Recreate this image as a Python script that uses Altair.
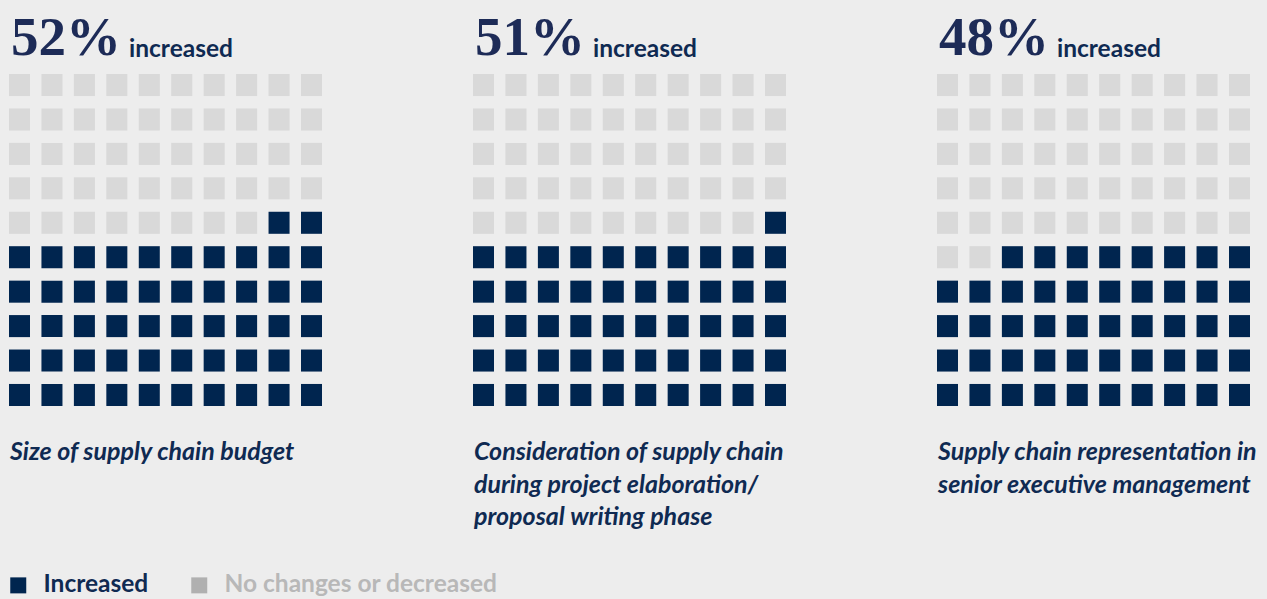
import altair as alt
import pandas as pd

panels = ["Size of supply chain budget",
          "Consideration of supply chain during project elaboration/ proposal writing phase",
          "Supply chain representation in senior executive management"]
values = [52, 51, 48]
captions = ["Size of supply chain budget",
            "Consideration of supply chain\nduring project elaboration/\nproposal writing phase",
            "Supply chain representation in\nsenior executive management"]
status_labels = ["Increased", "No changes or decreased"]

NAVY = "#00254f"
GRAY = "#b0b0b0"
BG = "#ededed"

rows = []
for p, v in zip(panels, values):
    for k in range(100):
        r_bottom = k // 10
        col = 9 - (k % 10)
        rows.append({"panel": p, "row": 9 - r_bottom, "col": col,
                     "status": status_labels[0] if k < v else status_labels[1]})
grid = pd.DataFrame(rows)

heads = pd.DataFrame({"panel": panels,
                      "pct": [f"{v}%" for v in values],
                      "word": ["increased"] * 3,
                      "caption": captions})

xscale = alt.Scale(domain=panels, range=[9, 1250], paddingInner=0.3254, paddingOuter=0)
X = alt.X("panel:N", scale=xscale, axis=None, sort=panels)
Xstart = alt.X("panel:N", scale=xscale, axis=None, sort=panels, bandPosition=0)

squares = alt.Chart(grid).mark_rect().encode(
    x=X,
    xOffset=alt.XOffset("col:O", scale=alt.Scale(paddingInner=0.352, paddingOuter=0)),
    y=alt.Y("row:O", scale=alt.Scale(range=[74, 406], paddingInner=0.36, paddingOuter=0), axis=None),
    color=alt.Color("status:N",
                    scale=alt.Scale(domain=status_labels, range=[NAVY, GRAY]),
                    legend=alt.Legend(orient="none", legendX=6, legendY=573,
                                      direction="horizontal", title=None,
                                      symbolType="square", symbolSize=256,
                                      symbolStrokeWidth=0, symbolOpacity=1,
                                      labelFont="Lato", labelFontSize=24.5,
                                      labelFontWeight="bold",
                                      labelColor=alt.ExprRef("datum.label == 'Increased' ? '#0f2a52' : '#b8b8b8'"),
                                      labelOffset=13, columnPadding=38,
                                      labelLimit=400)),
    opacity=alt.condition(alt.datum.status == "Increased", alt.value(1), alt.value(0.328)),
)

pct = alt.Chart(heads).mark_text(
    font="Liberation Serif", fontSize=55, fontWeight="bold", color="#1d2b57",
    align="left", baseline="alphabetic", dx=2,
).encode(x=Xstart, y=alt.value(55), text="pct:N")

word = alt.Chart(heads).mark_text(
    font="Lato", fontSize=24.5, fontWeight="bold", color="#0f2a52",
    align="left", baseline="alphabetic", dx=120,
).encode(x=Xstart, y=alt.value(57), text="word:N")

cap = alt.Chart(heads).mark_text(
    font="Lato", fontSize=25, fontWeight="bold", fontStyle="italic", color="#0f2a52",
    align="left", baseline="alphabetic", dx=1, lineBreak="\n", lineHeight=32.5,
).encode(x=Xstart, y=alt.value(460), text="caption:N")

chart = alt.layer(squares, pct, word, cap).properties(
    width=1267, height=599, background=BG, padding=0,
    autosize=alt.AutoSizeParams(type="none"),
).configure_view(stroke=None)

chart.save("out.html", embed_options={"renderer": "svg", "actions": False})
